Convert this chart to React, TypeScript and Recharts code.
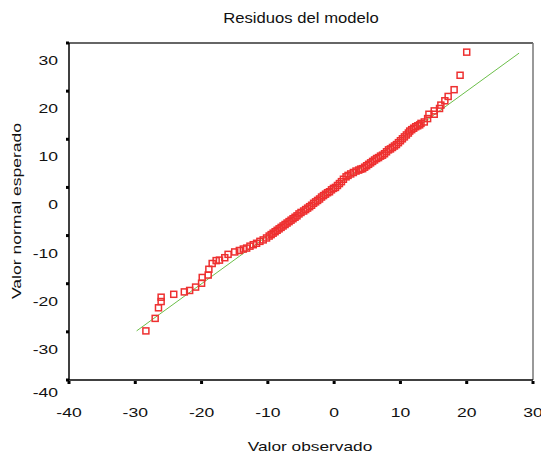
import React from 'react';
import { ScatterChart, Scatter, XAxis, YAxis, ReferenceLine } from 'recharts';

// residuos observados (eje X) y valor normal esperado (eje Y)
const observed = [
  -28.4, -27.0, -26.5, -26.1, -26.1, -24.2, -22.6, -21.8, -20.9, -20.0,
  -19.9, -19.0, -18.9, -18.4, -17.8, -17.3, -16.5, -16.0, -15.0, -14.3,
  -13.7, -13.2, -12.7, -12.2, -11.7, -11.2, -10.7, -10.2, -9.8, -9.5,
  -9.2, -8.9, -8.6, -8.3, -8.0, -7.7, -7.4, -7.1, -6.8, -6.5,
  -6.2, -5.9, -5.6, -5.3, -5.0, -4.6, -4.3, -4.0, -3.7, -3.4,
  -3.1, -2.8, -2.5, -2.2, -1.9, -1.6, -1.3, -1.0, -0.7, -0.4,
  -0.1, 0.2, 0.5, 0.8, 1.1, 1.4, 1.8, 2.1, 2.5, 2.9,
  3.3, 3.7, 4.0, 4.3, 4.6, 4.9, 5.2, 5.5, 5.8, 6.1,
  6.4, 6.7, 7.0, 7.3, 7.6, 7.9, 8.2, 8.5, 8.8, 9.1,
  9.4, 9.7, 10.0, 10.3, 10.6, 10.9, 11.2, 11.4, 11.7, 12.0,
  12.3, 12.6, 12.9, 13.1, 13.6, 14.1, 14.3, 15.1, 15.1, 15.9,
  16.1, 16.7, 17.2, 18.1, 19.0, 20.0,
];
const expected = [
  -29.8, -27.2, -25.0, -23.7, -22.8, -22.2, -21.7, -21.4, -20.7, -19.9,
  -18.7, -18.2, -17.0, -15.8, -15.2, -15.1, -14.6, -13.9, -13.4, -13.1,
  -12.8, -12.6, -12.2, -11.9, -11.6, -11.2, -10.9, -10.5, -10.1, -9.8,
  -9.5, -9.2, -8.9, -8.6, -8.3, -8.0, -7.7, -7.4, -7.1, -6.8,
  -6.5, -6.2, -5.9, -5.5, -5.2, -4.9, -4.6, -4.3, -4.0, -3.7,
  -3.3, -3.0, -2.7, -2.4, -2.0, -1.7, -1.4, -1.1, -0.9, -0.5,
  -0.2, 0.0, 0.4, 0.8, 1.2, 1.7, 2.2, 2.5, 2.8, 3.1,
  3.4, 3.6, 3.8, 3.9, 4.2, 4.5, 4.8, 5.1, 5.4, 5.7,
  6.0, 6.2, 6.5, 6.7, 7.0, 7.4, 7.8, 8.0, 8.3, 8.6,
  8.9, 9.3, 9.7, 10.1, 10.5, 10.9, 11.3, 11.7, 12.0, 12.3,
  12.6, 12.8, 13.0, 13.3, 13.6, 14.3, 15.2, 15.2, 15.9, 16.4,
  17.1, 18.0, 18.9, 20.3, 23.3, 28.1,
];
const xTicks = [-40, -30, -20, -10, 0, 10, 20, 30];
const yTicks = [-40, -30, -20, -10, 0, 10, 20, 30];
const lineFrom = -29.8;
const lineTo = 27.9;

const points = observed.map((x, i) => ({ x, y: expected[i] }));

const FONT = '"Liberation Sans", Arial, sans-serif';
const RED = '#ee3030';

const OpenSquare = (props: any) => {
  const { cx, cy } = props;
  return <rect x={cx - 3} y={cy - 3} width={6} height={6} fill="none" stroke={RED} strokeWidth={1.5} />;
};

const YTick = (props: any) => {
  const { x, y, payload } = props;
  const dy = payload.value === -40 ? 17 : 22;
  return (
    <g>
      <rect x={x - 3} y={y - 1.5} width={3} height={3} fill="#000" />
      <text transform={`translate(${x - 11},${y + dy}) scale(1.35,1)`} textAnchor="end" fontSize={13} fontFamily={FONT} fill="#111">
        {payload.value}
      </text>
    </g>
  );
};

const XTick = (props: any) => {
  const { x, y, payload } = props;
  return (
    <g>
      <rect x={x - 1.5} y={y + 1} width={3} height={3} fill="#000" />
      <text transform={`translate(${x},${y + 37}) scale(1.35,1)`} textAnchor="middle" fontSize={13} fontFamily={FONT} fill="#111">
        {payload.value}
      </text>
    </g>
  );
};

export default function App() {
  return (
    <div style={{ position: 'absolute', left: 0, top: 0, width: 541, height: 453, background: '#fff' }}>
      <ScatterChart width={541} height={453} margin={{ top: 43, right: 8, left: 9, bottom: 33 }}>
        <XAxis
          type="number"
          dataKey="x"
          domain={[-40, 30]}
          ticks={xTicks}
          interval={0}
          height={40}
          tickSize={0}
          tickMargin={0}
          tickLine={false}
          axisLine={{ stroke: '#000', strokeWidth: 1.5 }}
          tick={<XTick />}
        />
        <YAxis
          type="number"
          dataKey="y"
          domain={[-40, 30]}
          ticks={yTicks}
          interval={0}
          width={60}
          tickSize={0}
          tickMargin={0}
          tickLine={false}
          axisLine={{ stroke: '#000', strokeWidth: 1.5 }}
          tick={<YTick />}
        />
        <ReferenceLine y={30} stroke="#333" strokeWidth={1.5} />
        <ReferenceLine x={30} stroke="#777" strokeWidth={1.5} />
        <ReferenceLine
          segment={[{ x: lineFrom, y: lineFrom }, { x: lineTo, y: lineTo }]}
          stroke="#6cbf4a"
          strokeWidth={1}
        />
        <Scatter data={points} shape={<OpenSquare />} isAnimationActive={false} />
      </ScatterChart>
      <svg width={541} height={453} style={{ position: 'absolute', left: 0, top: 0, pointerEvents: 'none' }}>
        <text transform="translate(301,23) scale(1.19,1)" textAnchor="middle" fontSize={14} fontFamily={FONT} fill="#111">
          Residuos del modelo
        </text>
        <text transform="translate(310,451) scale(1.33,1)" textAnchor="middle" fontSize={13} fontFamily={FONT} fill="#111">
          Valor observado
        </text>
        <text transform="translate(21,211) rotate(-90) scale(1.35,1)" textAnchor="middle" fontSize={13} fontFamily={FONT} fill="#111">
          Valor normal esperado
        </text>
      </svg>
    </div>
  );
}
